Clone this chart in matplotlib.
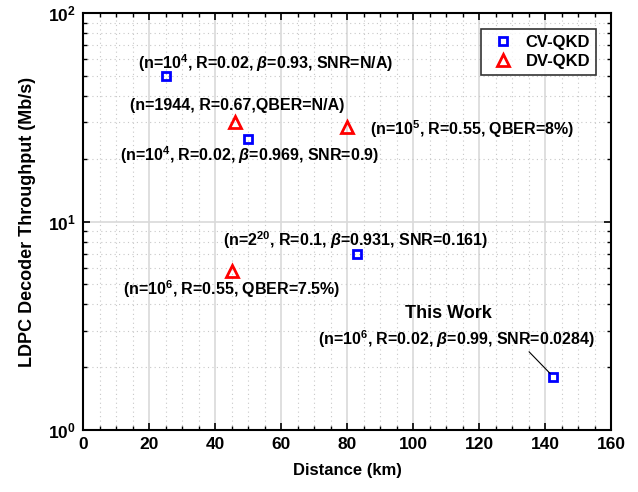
import numpy as np
import matplotlib
matplotlib.use('Agg')
import matplotlib.pyplot as plt
from matplotlib.ticker import MultipleLocator, LogLocator, NullFormatter

plt.rcParams['font.family'] = ['Liberation Sans', 'DejaVu Sans']
plt.rcParams['font.weight'] = 'bold'
plt.rcParams['mathtext.fontset'] = 'custom'
plt.rcParams['mathtext.rm'] = 'Liberation Sans:bold'
plt.rcParams['mathtext.bf'] = 'Liberation Sans:bold'
plt.rcParams['mathtext.it'] = 'Liberation Sans:italic'
plt.rcParams['mathtext.default'] = 'rm'

# data
cv_dist = [25, 50, 83, 142.5]
cv_tput = [50, 25, 7.0, 1.8]
dv_dist = [46, 80, 45]
dv_tput = [30, 28.3, 5.8]

labels = [
    r'(n=10$^4$, R=0.02, $\it{\beta}$=0.93, SNR=N/A)',
    r'(n=1944, R=0.67,QBER=N/A)',
    r'(n=10$^5$, R=0.55, QBER=8%)',
    r'(n=10$^4$, R=0.02, $\it{\beta}$=0.969, SNR=0.9)',
    r'(n=2$^{20}$, R=0.1, $\it{\beta}$=0.931, SNR=0.161)',
    r'(n=10$^6$, R=0.55, QBER=7.5%)',
    r'(n=10$^6$, R=0.02, $\it{\beta}$=0.99, SNR=0.0284)',
]

fig = plt.figure(figsize=(6.38, 4.92), dpi=100)
ax = fig.add_axes([83/638, 1-430/492, 528/638, 417/492])

ax.plot(cv_dist, cv_tput, 's', mfc='none', mec='#0000ff', mew=2, ms=6, ls='none', label='CV-QKD')
ax.plot(dv_dist, dv_tput, '^', mfc='none', mec='#ff0000', mew=2, ms=9, ls='none', label='DV-QKD')

ax.set_yscale('log')
ax.set_xlim(0, 160)
ax.set_ylim(1, 100)

ax.xaxis.set_major_locator(MultipleLocator(20))
ax.xaxis.set_minor_locator(MultipleLocator(5))
ax.yaxis.set_major_locator(LogLocator(base=10))
ax.yaxis.set_minor_locator(LogLocator(base=10, subs=np.arange(2, 10)))
ax.yaxis.set_minor_formatter(NullFormatter())

ax.grid(which='major', color='#d9d9d9', lw=1.2, ls='-')
ax.grid(which='minor', color='#c8c8c8', lw=0.8, ls=(0, (1, 3)))
ax.set_axisbelow(True)

ax.tick_params(which='both', direction='in', top=True, right=True)
ax.tick_params(which='major', length=5, width=1.2, labelsize=12.5, pad=5)
ax.tick_params(which='minor', length=3, width=1)
for s in ax.spines.values():
    s.set_linewidth(1.5)
for lab in ax.get_xticklabels() + ax.get_yticklabels():
    lab.set_fontweight('bold')

ax.set_xlabel('Distance (km)', fontsize=12, fontweight='bold', labelpad=8)
ax.set_ylabel('LDPC Decoder Throughput (Mb/s)', fontsize=13, fontweight='bold', labelpad=9)

fs = 11.5
ax.text(55.5, 57.5, labels[0], ha='center', va='center', fontsize=fs, fontweight='bold')
ax.text(46.8, 36.1, labels[1], ha='center', va='center', fontsize=fs, fontweight='bold')
ax.text(87, 27.7, labels[2], ha='left', va='center', fontsize=fs, fontweight='bold')
ax.text(50.3, 20.8, labels[3], ha='center', va='center', fontsize=fs, fontweight='bold')
ax.text(42.4, 8.1, labels[4], ha='left', va='center', fontsize=fs, fontweight='bold')
ax.text(12.1, 4.76, labels[5], ha='left', va='center', fontsize=fs, fontweight='bold')
ax.text(110.6, 3.61, 'This Work', ha='center', va='center', fontsize=13, fontweight='bold')
ax.text(113, 2.74, labels[6], ha='center', va='center', fontsize=fs, fontweight='bold')
ax.plot([135.2, 141.5], [2.37, 1.87], color='black', lw=0.8)

leg = ax.legend(loc='upper right', frameon=True, fancybox=False,
                edgecolor='black', borderpad=0.35, borderaxespad=0,
                labelspacing=0.25, handletextpad=0.35, handlelength=2.0,
                bbox_to_anchor=(0.9716, 0.9616), prop={'weight': 'bold', 'size': 12})
leg.get_frame().set_linewidth(1.2)

fig.savefig('out.png', dpi=100)
